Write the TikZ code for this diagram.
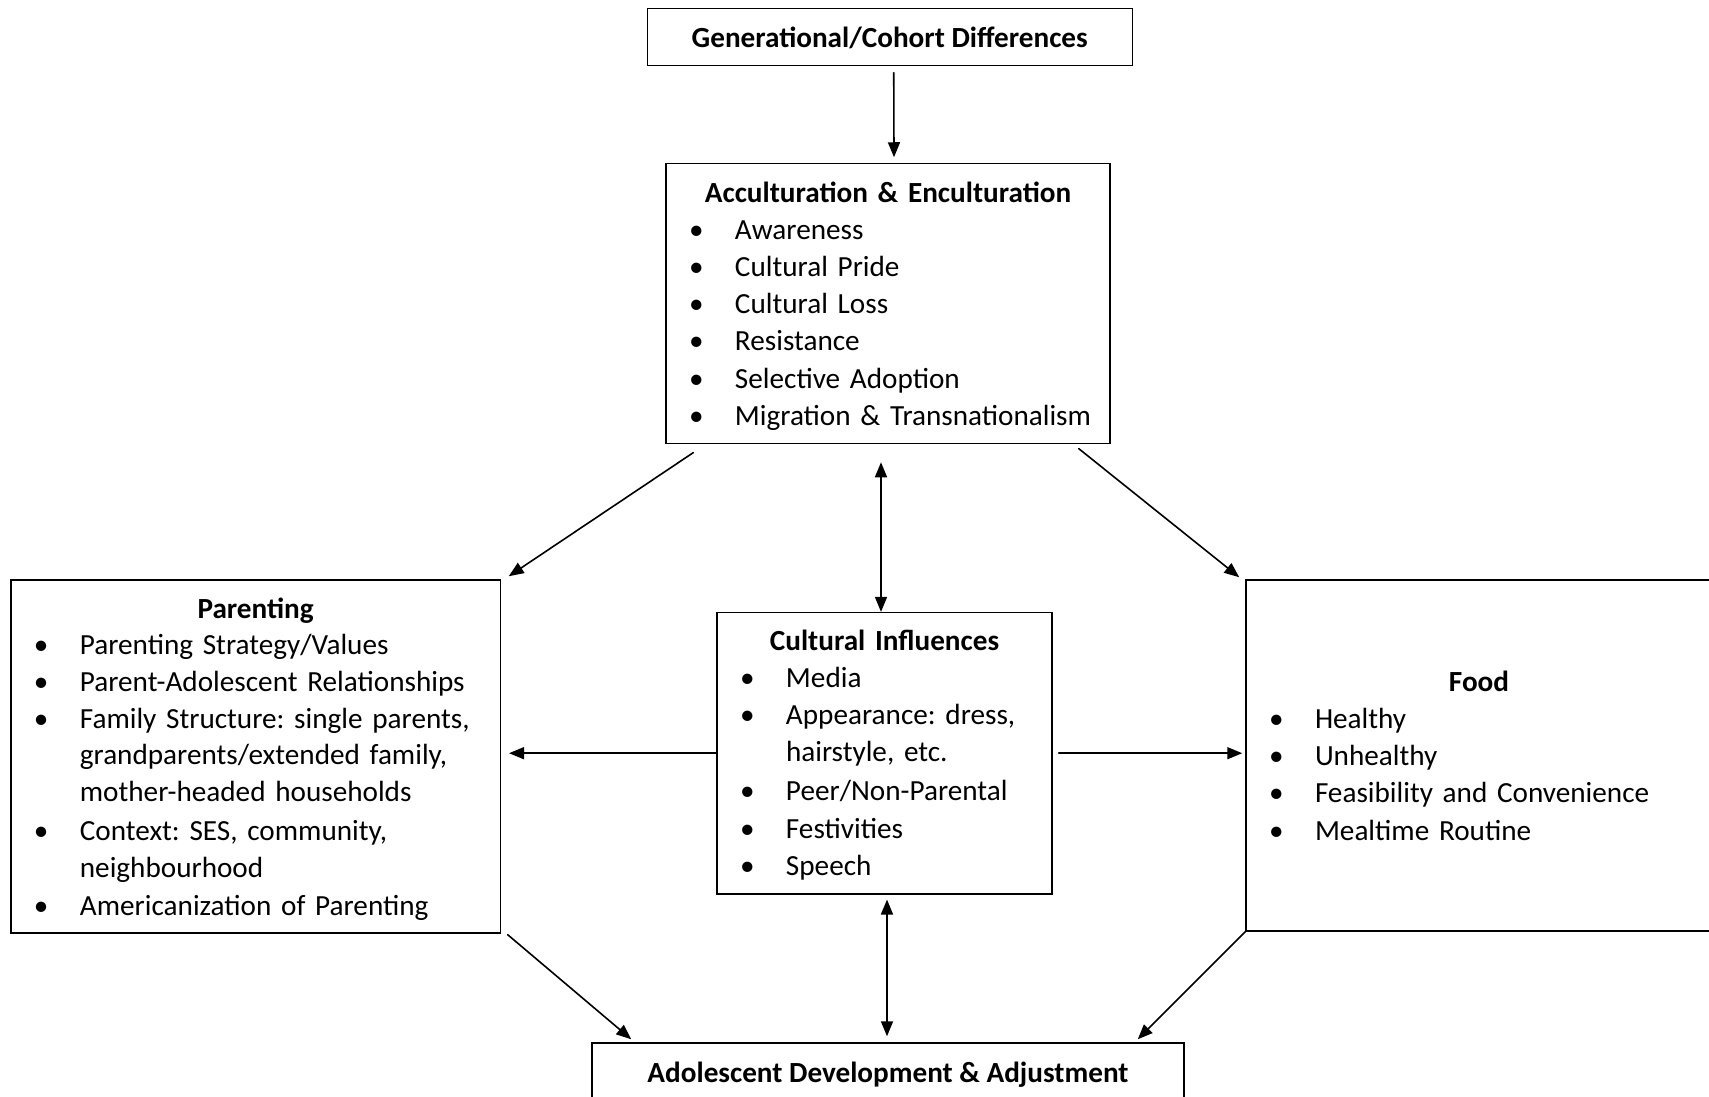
\documentclass[tikz,border=0pt]{standalone}
\usepackage{fontspec}
\setmainfont{Carlito}
\usetikzlibrary{arrows.meta}
\newcommand{\tfont}[1]{\fontsize{14.6pt}{#1}\selectfont\frenchspacing\lineskiplimit=-10pt\relax}
\newcommand{\ttl}[2]{{\centering\bfseries\rule{0pt}{#1}#2\par}}
\newcommand{\bl}[1]{\par\noindent\makebox[34.5pt][l]{\hspace*{11.5pt}\textbullet}\begin{tabular}[t]{@{}l@{}}#1\end{tabular}\par}

\begin{document}
\begin{tikzpicture}[x=0.5pt, y=-0.5pt, line cap=round, >={Triangle[length=7.5pt,width=6pt]}, font=\tfont{18.6pt}]
	\tikzset{box style/.style={draw, line width=0.75pt, rectangle, inner sep=0pt},
		list style/.style={box style, text width=#1, minimum width=#1},
		arr style/.style={line width=0.8pt}}
	\useasboundingbox (0,0) rectangle (1709,1097);
	\clip (0,0) rectangle (1709,1097);
	\node[box style, minimum width=242.5pt, minimum height=28.35pt, text depth=0pt] (gen) at (889.75,37) {\bfseries Generational/Cohort Differences};
	\node[list style=222pt, minimum height=140pt] (accul) at (888,303.5) {\ttl{15.8pt}{Acculturation \& Enculturation}\bl{Awareness}\bl{Cultural Pride}\bl{Cultural Loss}\bl{Resistance}\bl{Selective Adoption}\bl{Migration \& Transnationalism}};
	\node[list style=244.7pt, minimum height=176.5pt, font=\tfont{18.35pt}] (parent) at (255.6,756.5) {\ttl{16pt}{Parenting}\bl{Parenting Strategy/Values}\bl{Parent-Adolescent Relationships}\bl{Family Structure: single parents,\\ grandparents/extended family,\\ mother-headed households}\bl{Context: SES, community,\\ neighbourhood}\bl{Americanization of Parenting}};
	\node[list style=167.5pt, minimum height=140.6pt] (cult) at (884.5,753.2) {\ttl{15pt}{Cultural Influences}\bl{Media}\bl{Appearance: dress,\\ hairstyle, etc.}\bl{Peer/Non-Parental}\bl{Festivities}\bl{Speech}};
	\node[list style=233pt, minimum height=175.5pt] (food) at (1479,755.5) {\ttl{15.8pt}{Food}\bl{Healthy}\bl{Unhealthy}\bl{Feasibility and Convenience}\bl{Mealtime Routine}};
	\node[box style, minimum width=296pt, minimum height=29.5pt, text depth=0pt] (adol) at (888,1072.5) {\bfseries Adolescent Development \& Adjustment};
	% arrows
	\draw[arr style, ->] ([xshift=2pt,yshift=-3.3pt]gen.south) -- ([xshift=3pt,yshift=2.75pt]accul.north);
	\draw[arr style, ->] ([xshift=14pt,yshift=-4.2pt]accul.south west) -- ([xshift=3.85pt,yshift=1.5pt]parent.north east);
	\draw[arr style, ->] ([xshift=-16pt,yshift=-2.2pt]accul.south east) -- ([xshift=-3pt,yshift=1pt]food.north west);
	\draw[arr style, <->] ([xshift=-3.5pt,yshift=-9pt]accul.south) -- ([xshift=-1.75pt]cult.north);
	\draw[arr style, ->] (cult.west) -- ([xshift=4pt]parent.east |- cult.west);
	\draw[arr style, ->] ([xshift=3pt]cult.east) -- ([xshift=-1.5pt]food.west |- cult.east);
	\draw[arr style, <->] ([xshift=1.25pt,yshift=-2.5pt]cult.south) -- ([xshift=-0.5pt,yshift=3pt]adol.north);
	\draw[arr style, ->] ([xshift=3.35pt,yshift=-0.5pt]parent.south east) -- ([xshift=20pt,yshift=1.5pt]adol.north west);
	\draw[arr style, ->] (food.south west) -- ([xshift=-23.5pt,yshift=1.5pt]adol.north east);
\end{tikzpicture}
\end{document}
